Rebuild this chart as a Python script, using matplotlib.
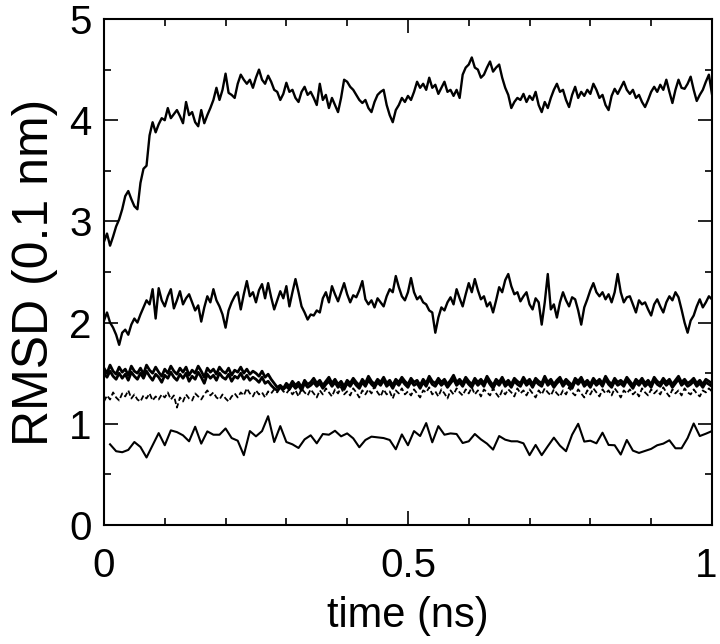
import numpy as np
import matplotlib
matplotlib.use("Agg")
import matplotlib.pyplot as plt
from matplotlib.ticker import MultipleLocator
from matplotlib.transforms import ScaledTranslation

plt.rcParams['font.family'] = ['Liberation Sans', 'DejaVu Sans']

# ---- data (RMSD in 0.1 nm), dense series sampled every 0.005 ns ----
rmsd_top = [
    2.80, 2.88, 2.76, 2.85, 2.95, 3.02, 3.12, 3.25, 3.30, 3.22,
    3.15, 3.12, 3.38, 3.52, 3.55, 3.85, 3.98, 3.88, 3.96, 4.02,
    4.00, 4.12, 4.02, 4.06, 4.10, 4.04, 3.97, 4.18, 4.05, 4.08,
    3.98, 3.94, 4.10, 3.97, 4.05, 4.12, 4.20, 4.32, 4.20, 4.30,
    4.46, 4.27, 4.25, 4.22, 4.36, 4.45, 4.40, 4.36, 4.40, 4.32,
    4.42, 4.50, 4.40, 4.36, 4.44, 4.38, 4.30, 4.28, 4.20, 4.26,
    4.37, 4.28, 4.30, 4.22, 4.18, 4.28, 4.33, 4.25, 4.28, 4.22,
    4.15, 4.36, 4.20, 4.25, 4.12, 4.22, 4.15, 4.08, 4.22, 4.40,
    4.38, 4.33, 4.30, 4.25, 4.20, 4.17, 4.20, 4.12, 4.08, 4.18,
    4.25, 4.28, 4.30, 4.15, 4.05, 3.98, 4.10, 4.15, 4.22, 4.18,
    4.24, 4.20, 4.28, 4.38, 4.32, 4.36, 4.30, 4.42, 4.32, 4.35,
    4.26, 4.32, 4.38, 4.28, 4.30, 4.24, 4.30, 4.22, 4.45, 4.52,
    4.55, 4.62, 4.52, 4.50, 4.42, 4.45, 4.52, 4.58, 4.48, 4.52,
    4.55, 4.42, 4.32, 4.25, 4.12, 4.18, 4.22, 4.20, 4.26, 4.18,
    4.24, 4.20, 4.28, 4.15, 4.08, 4.18, 4.12, 4.22, 4.30, 4.36,
    4.28, 4.30, 4.20, 4.13, 4.25, 4.33, 4.22, 4.28, 4.24, 4.30,
    4.26, 4.36, 4.30, 4.22, 4.25, 4.15, 4.10, 4.24, 4.31, 4.26,
    4.32, 4.38, 4.30, 4.26, 4.30, 4.22, 4.25, 4.18, 4.13, 4.20,
    4.28, 4.33, 4.28, 4.35, 4.30, 4.40, 4.28, 4.17, 4.30, 4.40,
    4.32, 4.31, 4.36, 4.43, 4.30, 4.19, 4.25, 4.30, 4.38, 4.45,
    4.26,
]

rmsd_second = [
    2.02, 2.10, 2.00, 1.95, 1.88, 1.78, 1.90, 1.93, 1.88, 1.98,
    2.04, 2.00, 2.08, 2.15, 2.22, 2.18, 2.33, 2.04, 2.34, 2.22,
    2.16, 2.26, 2.33, 2.14, 2.22, 2.31, 2.18, 2.24, 2.28, 2.20,
    2.12, 2.17, 2.01, 2.15, 2.26, 2.20, 2.33, 2.22, 2.16, 2.08,
    1.95, 2.12, 2.20, 2.26, 2.30, 2.13, 2.28, 2.41, 2.26, 2.30,
    2.20, 2.32, 2.38, 2.24, 2.39, 2.25, 2.13, 2.22, 2.31, 2.24,
    2.36, 2.16, 2.30, 2.43, 2.30, 2.16, 2.10, 2.03, 2.08, 2.07,
    2.12, 2.10, 2.24, 2.30, 2.20, 2.36, 2.28, 2.21, 2.30, 2.39,
    2.28, 2.20, 2.27, 2.25, 2.32, 2.41, 2.23, 2.18, 2.22, 2.15,
    2.24, 2.20, 2.16, 2.26, 2.33, 2.30, 2.46, 2.35, 2.26, 2.22,
    2.30, 2.44, 2.30, 2.23, 2.26, 2.20, 2.18, 2.12, 2.10, 1.90,
    2.05, 2.15, 2.12, 2.20, 2.25, 2.18, 2.33, 2.24, 2.16, 2.28,
    2.39, 2.30, 2.43, 2.32, 2.23, 2.26, 2.16, 2.20, 2.10, 2.22,
    2.35, 2.30, 2.42, 2.48, 2.36, 2.28, 2.30, 2.21, 2.26, 2.30,
    2.18, 2.13, 2.24, 2.20, 1.98, 2.20, 2.48, 2.13, 2.18, 2.05,
    2.20, 2.30, 2.22, 2.16, 2.25, 2.23, 2.12, 1.98, 2.15, 2.23,
    2.32, 2.39, 2.30, 2.26, 2.30, 2.23, 2.28, 2.20, 2.30, 2.48,
    2.30, 2.20, 2.25, 2.26, 2.18, 2.10, 2.22, 2.18, 2.20, 2.13,
    2.07, 2.18, 2.23, 2.16, 2.10, 2.20, 2.26, 2.22, 2.30, 2.25,
    2.13, 2.00, 1.90, 2.02, 2.07, 2.16, 2.23, 2.15, 2.20, 2.26,
    2.23,
]

rmsd_band_a = [
    1.55, 1.50, 1.58, 1.52, 1.49, 1.56, 1.51, 1.54, 1.48, 1.57,
    1.52, 1.50, 1.55, 1.49, 1.58, 1.53, 1.50, 1.56, 1.51, 1.47,
    1.54, 1.50, 1.57, 1.52, 1.49, 1.55, 1.51, 1.56, 1.48, 1.53,
    1.50, 1.57, 1.52, 1.46, 1.55, 1.51, 1.54, 1.49, 1.56, 1.52,
    1.50, 1.55, 1.48, 1.53, 1.51, 1.56, 1.50, 1.54, 1.49, 1.52,
    1.50, 1.47, 1.52, 1.46, 1.49, 1.44, 1.40, 1.36, 1.38, 1.35,
    1.40, 1.37, 1.42, 1.38, 1.41, 1.36, 1.43, 1.39, 1.41, 1.45,
    1.40, 1.43, 1.38, 1.42, 1.46, 1.40, 1.44, 1.39, 1.42, 1.37,
    1.43, 1.40, 1.45, 1.41, 1.38, 1.44, 1.40, 1.47, 1.42, 1.39,
    1.44, 1.41, 1.46, 1.40, 1.43, 1.38, 1.44, 1.41, 1.46, 1.42,
    1.39, 1.45, 1.41, 1.43, 1.38, 1.44, 1.40, 1.47, 1.42, 1.40,
    1.45, 1.41, 1.44, 1.39, 1.43, 1.48, 1.41, 1.44, 1.40, 1.46,
    1.42, 1.39, 1.45, 1.41, 1.44, 1.40, 1.47, 1.42, 1.38, 1.44,
    1.41, 1.46, 1.40, 1.43, 1.39, 1.45, 1.42, 1.40, 1.46, 1.41,
    1.44, 1.39, 1.45, 1.42, 1.40, 1.47, 1.41, 1.44, 1.39, 1.43,
    1.46, 1.40, 1.44, 1.41, 1.38, 1.45, 1.42, 1.46, 1.40, 1.43,
    1.39, 1.45, 1.41, 1.44, 1.40, 1.47, 1.42, 1.39, 1.45, 1.41,
    1.43, 1.40, 1.46, 1.42, 1.38, 1.44, 1.41, 1.45, 1.40, 1.43,
    1.39, 1.46, 1.42, 1.40, 1.45, 1.41, 1.44, 1.39, 1.43, 1.47,
    1.41, 1.44, 1.40, 1.42, 1.45, 1.40, 1.43, 1.39, 1.44, 1.42,
    1.40,
]

rmsd_band_b = [
    1.50, 1.46, 1.52, 1.47, 1.44, 1.50, 1.45, 1.49, 1.43, 1.51,
    1.47, 1.44, 1.50, 1.45, 1.52, 1.47, 1.43, 1.49, 1.46, 1.41,
    1.48, 1.45, 1.51, 1.46, 1.43, 1.49, 1.45, 1.50, 1.42, 1.47,
    1.44, 1.51, 1.46, 1.40, 1.49, 1.45, 1.48, 1.43, 1.50, 1.46,
    1.44, 1.49, 1.42, 1.47, 1.45, 1.50, 1.44, 1.48, 1.43, 1.46,
    1.44, 1.41, 1.46, 1.40, 1.42, 1.38, 1.35, 1.33, 1.36, 1.34,
    1.37, 1.34, 1.39, 1.35, 1.38, 1.33, 1.40, 1.36, 1.38, 1.41,
    1.37, 1.40, 1.35, 1.39, 1.42, 1.37, 1.41, 1.36, 1.39, 1.34,
    1.40, 1.37, 1.42, 1.38, 1.35, 1.41, 1.37, 1.43, 1.39, 1.36,
    1.41, 1.38, 1.43, 1.37, 1.40, 1.35, 1.41, 1.38, 1.43, 1.39,
    1.36, 1.42, 1.38, 1.40, 1.35, 1.41, 1.37, 1.44, 1.39, 1.37,
    1.42, 1.38, 1.41, 1.36, 1.40, 1.44, 1.38, 1.41, 1.37, 1.43,
    1.39, 1.36, 1.42, 1.38, 1.41, 1.37, 1.44, 1.39, 1.35, 1.41,
    1.38, 1.43, 1.37, 1.40, 1.36, 1.42, 1.39, 1.37, 1.43, 1.38,
    1.41, 1.36, 1.42, 1.39, 1.37, 1.44, 1.38, 1.41, 1.36, 1.40,
    1.43, 1.37, 1.41, 1.38, 1.35, 1.42, 1.39, 1.43, 1.37, 1.40,
    1.36, 1.42, 1.38, 1.41, 1.37, 1.44, 1.39, 1.36, 1.42, 1.38,
    1.40, 1.37, 1.43, 1.39, 1.35, 1.41, 1.38, 1.42, 1.37, 1.40,
    1.36, 1.43, 1.39, 1.37, 1.42, 1.38, 1.41, 1.36, 1.40, 1.44,
    1.38, 1.41, 1.37, 1.39, 1.42, 1.37, 1.40, 1.36, 1.41, 1.39,
    1.37,
]

rmsd_dashed = [
    1.22, 1.28, 1.24, 1.31, 1.26, 1.23, 1.30, 1.27, 1.33, 1.25,
    1.29, 1.24, 1.22, 1.28, 1.25, 1.30, 1.23, 1.27, 1.24, 1.29,
    1.26, 1.31, 1.24, 1.28, 1.16, 1.26, 1.22, 1.29, 1.25, 1.23,
    1.30, 1.27, 1.24, 1.29, 1.33, 1.28, 1.31, 1.26, 1.24, 1.29,
    1.25, 1.22, 1.27, 1.30, 1.26, 1.31, 1.28, 1.35, 1.30, 1.27,
    1.33, 1.29, 1.31, 1.26, 1.32, 1.30, 1.34, 1.31, 1.36, 1.32,
    1.30, 1.34, 1.29, 1.33, 1.27, 1.35, 1.31, 1.28, 1.34, 1.30,
    1.26, 1.33, 1.29, 1.35, 1.31, 1.27, 1.34, 1.30, 1.36, 1.29,
    1.32, 1.28, 1.35, 1.31, 1.26, 1.33, 1.29, 1.34, 1.30, 1.37,
    1.31, 1.27, 1.34, 1.29, 1.32, 1.25, 1.33, 1.30, 1.35, 1.29,
    1.32, 1.28, 1.34, 1.30, 1.26, 1.33, 1.31, 1.36, 1.29, 1.32,
    1.27, 1.34, 1.30, 1.25, 1.33, 1.29, 1.35, 1.31, 1.28, 1.34,
    1.30, 1.36, 1.29, 1.33, 1.27, 1.34, 1.31, 1.28, 1.35, 1.30,
    1.26, 1.33, 1.29, 1.34, 1.31, 1.27, 1.35, 1.30, 1.33, 1.28,
    1.34, 1.30, 1.26, 1.33, 1.29, 1.35, 1.31, 1.28, 1.34, 1.30,
    1.27, 1.33, 1.29, 1.36, 1.31, 1.28, 1.34, 1.30, 1.26, 1.33,
    1.29, 1.35, 1.31, 1.27, 1.34, 1.30, 1.33, 1.28, 1.35, 1.31,
    1.26, 1.33, 1.30, 1.34, 1.29, 1.32, 1.27, 1.35, 1.31, 1.28,
    1.34, 1.30, 1.33, 1.29, 1.36, 1.31, 1.27, 1.34, 1.30, 1.33,
    1.28, 1.35, 1.31, 1.29, 1.34, 1.30, 1.27, 1.33, 1.31, 1.35,
    1.32,
]

# coarse series sampled every 0.01 ns from 0.01 to 1.0
rmsd_bottom = [
    0.797, 0.729, 0.719, 0.742, 0.820, 0.771, 0.667, 0.788, 0.908, 0.788,
    0.935, 0.918, 0.886, 0.827, 0.971, 0.804, 0.925, 0.892, 0.892, 0.954,
    0.859, 0.833, 0.690, 0.928, 0.876, 0.928, 1.075, 0.820, 0.977, 0.820,
    0.797, 0.761, 0.846, 0.886, 0.807, 0.899, 0.892, 0.931, 0.876, 0.905,
    0.856, 0.768, 0.840, 0.873, 0.866, 0.859, 0.840, 0.748, 0.895, 0.788,
    0.928, 0.879, 1.007, 0.817, 0.977, 0.892, 0.905, 0.899, 0.810, 0.827,
    0.899, 0.846, 0.804, 0.745, 0.879, 0.843, 0.827, 0.827, 0.807, 0.690,
    0.791, 0.690, 0.778, 0.863, 0.784, 0.729, 0.892, 1.000, 0.824, 0.833,
    0.807, 0.912, 0.791, 0.788, 0.696, 0.840, 0.735, 0.712, 0.732, 0.752,
    0.788, 0.804, 0.837, 0.758, 0.758, 0.859, 1.003, 0.879, 0.902, 0.928,
]

dense_step = 0.005
coarse_start, coarse_step = 0.01, 0.01

xticks = [0, 0.5, 1]
xticklabels = ['0', '0.5', '1']
yticks = [0, 1, 2, 3, 4, 5]
yticklabels = ['0', '1', '2', '3', '4', '5']

t_dense = np.arange(len(rmsd_top)) * dense_step
t_coarse = coarse_start + np.arange(len(rmsd_bottom)) * coarse_step

fig = plt.figure(figsize=(7.2, 6.44), dpi=100)
ax = fig.add_axes([0.1444, 0.1848, 0.8444, 0.7857])

ax.plot(t_dense, rmsd_top, color='black', lw=1.7)
ax.plot(t_dense, rmsd_second, color='black', lw=1.7)
ax.plot(t_dense, rmsd_band_a, color='black', lw=2.0)
ax.plot(t_dense, rmsd_band_b, color='black', lw=2.0)
ax.plot(t_dense, rmsd_dashed, color='black', lw=1.3, linestyle=(0, (3, 1.5)))
ax.plot(t_coarse, rmsd_bottom, color='black', lw=1.5)

ax.set_xlim(0, 1)
ax.set_ylim(0, 5)
ax.set_xticks(xticks)
ax.set_xticklabels(xticklabels)
ax.set_yticks(yticks)
ax.set_yticklabels(yticklabels)
ax.xaxis.set_minor_locator(MultipleLocator(0.1))
ax.yaxis.set_minor_locator(MultipleLocator(0.5))

ax.tick_params(which='both', direction='in', top=True, right=True,
               labelsize=29, width=1.2)
ax.tick_params(which='major', length=10)
ax.tick_params(which='minor', length=5)
ax.tick_params(axis='x', pad=16)
ax.tick_params(axis='y', pad=9)
for s in ax.spines.values():
    s.set_linewidth(1.5)

ax.set_xlabel('time (ns)', fontsize=30, labelpad=8)
ax.set_ylabel('RMSD (0.1 nm)', fontsize=36, labelpad=8)

# nudge the last x tick label so it stays inside the canvas
last = ax.get_xticklabels()[-1]
last.set_transform(last.get_transform() + ScaledTranslation(-4 / 72, 0, fig.dpi_scale_trans))

fig.savefig('out.png', dpi=100)
